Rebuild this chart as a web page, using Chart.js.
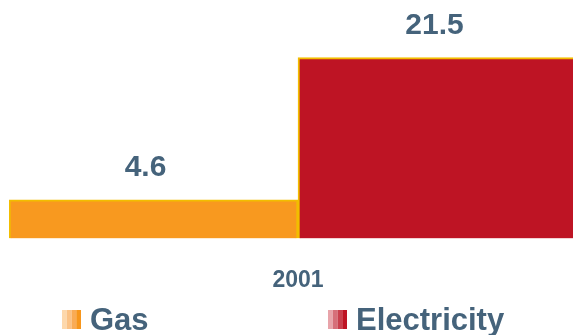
<!DOCTYPE html>
<html>
<head>
<meta charset="utf-8">
<script src="https://cdn.jsdelivr.net/npm/chart.js@4.4.0/dist/chart.umd.min.js"></script>
<style>
  html, body { margin: 0; padding: 0; background: #fff; overflow: hidden; }
  #wrap { width: 573px; height: 335px; overflow: hidden; }
</style>
</head>
<body>
<div id="wrap"><canvas id="energyChart" width="590" height="335"></canvas></div>
<script>
const categories = ['2001'];
const seriesNames = ['Gas', 'Electricity'];
const gasValues = [4.6];
const electricityValues = [21.5];

const TEXT_COLOR = '#45637b';
const FONT = '"Liberation Sans", Arial, sans-serif';

// little striped squares used in the legend
const stripes = {
  Gas: ['#fdd8ac', '#fbc285', '#f9ab55', '#f7961c'],
  Electricity: ['#e8a4aa', '#d66f79', '#c9404d', '#be1424']
};

const valueLabels = {
  id: 'valueLabels',
  afterDatasetsDraw(chart) {
    const ctx = chart.ctx;
    ctx.save();
    ctx.font = 'bold 30px ' + FONT;
    ctx.fillStyle = TEXT_COLOR;
    ctx.textAlign = 'center';
    ctx.textBaseline = 'bottom';
    chart.data.datasets.forEach((ds, i) => {
      chart.getDatasetMeta(i).data.forEach((bar, j) => {
        ctx.fillText(ds.data[j].toFixed(1), bar.x - 8, bar.y - 17);
      });
    });
    ctx.restore();
  }
};

const bottomLegend = {
  id: 'bottomLegend',
  afterDraw(chart) {
    const ctx = chart.ctx;
    const startX = [62, 328];
    ctx.save();
    ctx.font = 'bold 31px ' + FONT;
    ctx.textBaseline = 'middle';
    chart.data.datasets.forEach((ds, i) => {
      const x = startX[i];
      stripes[ds.label].forEach((c, k) => {
        ctx.fillStyle = c;
        ctx.fillRect(x + k * 4.75, 310, 4.75, 19);
      });
      ctx.fillStyle = TEXT_COLOR;
      ctx.fillText(ds.label, x + 28, 321);
    });
    ctx.restore();
  }
};

new Chart(document.getElementById('energyChart'), {
  type: 'bar',
  data: {
    labels: categories,
    datasets: [
      {
        label: seriesNames[0],
        data: gasValues,
        backgroundColor: '#f8991f',
        borderColor: '#f2bd00',
        borderWidth: 2
      },
      {
        label: seriesNames[1],
        data: electricityValues,
        backgroundColor: '#be1424',
        borderColor: '#f2bd00',
        borderWidth: 2
      }
    ]
  },
  options: {
    responsive: false,
    animation: false,
    layout: { padding: { left: 9, right: 3, top: 3, bottom: 21 } },
    datasets: { bar: { barPercentage: 1, categoryPercentage: 1 } },
    plugins: {
      legend: { display: false },
      tooltip: { enabled: false }
    },
    scales: {
      x: {
        grid: { display: false },
        border: { display: false },
        ticks: { color: TEXT_COLOR, font: { family: FONT, size: 23, weight: 'bold' }, padding: 20 }
      },
      y: {
        display: false,
        min: 0,
        max: 28
      }
    }
  },
  plugins: [valueLabels, bottomLegend]
});
</script>
</body>
</html>
